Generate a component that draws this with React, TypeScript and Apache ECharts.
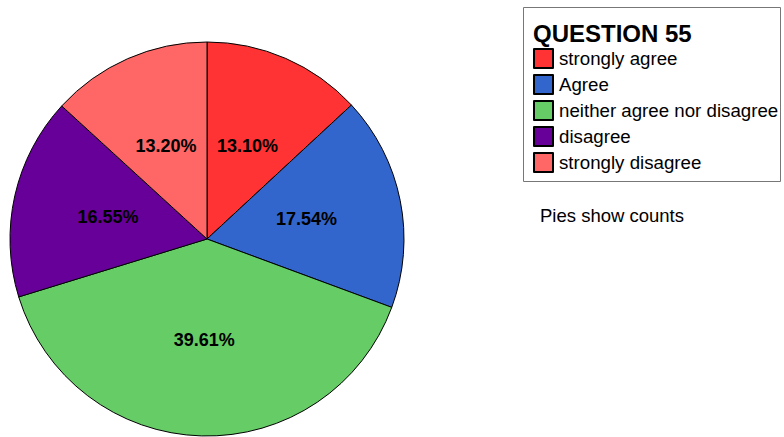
import React, { useEffect, useRef } from "react";
import * as echarts from "echarts";

const categories = [
  "strongly agree",
  "Agree",
  "neither agree nor disagree",
  "disagree",
  "strongly disagree",
];
const values = [13.1, 17.54, 39.61, 16.55, 13.2];
const colors = ["#FF3333", "#3366CC", "#66CC66", "#660099", "#FF6666"];
const legendTitle = "QUESTION 55";
const note = "Pies show counts";

export default function App() {
  const ref = useRef<HTMLDivElement>(null);
  useEffect(() => {
    document.body.style.margin = "0";
    const chart = echarts.init(ref.current!, null, { renderer: "svg" });
    chart.setOption({
      animation: false,
      backgroundColor: "#ffffff",
      textStyle: { fontFamily: "Liberation Sans, Arial, sans-serif" },
      legend: {
        orient: "vertical",
        left: 533,
        top: 48,
        padding: 0,
        itemWidth: 19,
        itemHeight: 19,
        itemGap: 5,
        icon: "rect",
        data: categories,
        textStyle: {
          fontSize: 18.7,
          lineHeight: 19,
          color: "#000",
          fontFamily: "Liberation Sans, Arial, sans-serif",
          padding: [0, 0, 0, 1],
        },
      },
      graphic: [
        {
          type: "rect",
          shape: { x: 523.5, y: 7.5, width: 257, height: 174 },
          style: { fill: "none", stroke: "#777", lineWidth: 1 },
          z: 1,
        },
        {
          type: "text",
          x: 533,
          y: 33.5,
          style: {
            text: legendTitle,
            fontSize: 24,
            fontWeight: "bold",
            fill: "#000",
            fontFamily: "Liberation Sans, Arial, sans-serif",
            verticalAlign: "middle",
          },
        },
        {
          type: "text",
          x: 540,
          y: 215,
          style: {
            text: note,
            fontSize: 18.5,
            fill: "#000",
            fontFamily: "Liberation Sans, Arial, sans-serif",
            verticalAlign: "middle",
          },
        },
      ],
      series: [
        {
          type: "pie",
          center: [207, 239],
          radius: [0, 197],
          startAngle: 90,
          clockwise: true,
          avoidLabelOverlap: false,
          itemStyle: { borderColor: "#000", borderWidth: 1 },
          label: {
            show: true,
            position: "inner",
            formatter: (p: any) => p.value.toFixed(2) + "%",
            fontSize: 18,
            fontWeight: "bold",
            color: "#000",
            fontFamily: "Liberation Sans, Arial, sans-serif",
          },
          labelLine: { show: false },
          emphasis: { disabled: true },
          data: categories.map((c, i) => ({
            name: c,
            value: values[i],
            itemStyle: { color: colors[i] },
          })),
        },
      ],
    });
    return () => chart.dispose();
  }, []);
  return <div ref={ref} style={{ width: 784, height: 437 }} />;
}
